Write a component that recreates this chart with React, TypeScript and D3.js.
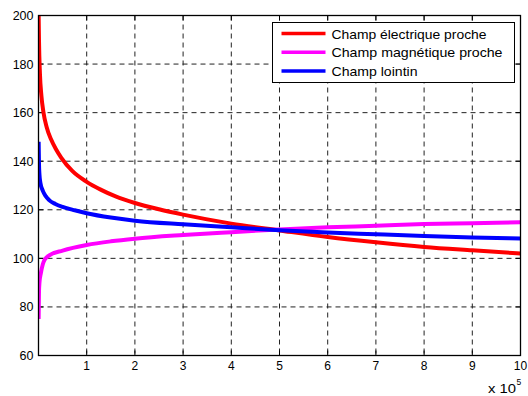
import React, { useRef, useEffect } from 'react';
import * as d3 from 'd3';

// x values are in units of 10^5
const redX = [0.003, 0.01, 0.03, 0.06, 0.1, 0.17, 0.26, 0.36, 0.47, 0.7, 1, 1.3, 1.6, 2, 2.5, 3, 4, 5, 6, 7, 8, 9, 10];
const redY = [200, 190, 176, 167, 160.5, 154, 149, 145, 141.5, 136, 131.5, 128.2, 125.5, 122.8, 120.2, 118, 114.3, 111.5, 108.8, 106.6, 104.7, 103.3, 102];

const magX = [0.003, 0.01, 0.02, 0.05, 0.13, 0.25, 0.5, 1, 1.5, 2, 3, 4, 5, 6, 7, 8, 9, 10];
const magY = [75, 86, 90, 94, 99.5, 101.5, 103.2, 105.5, 107, 108.1, 109.6, 110.8, 111.9, 112.8, 113.4, 114.1, 114.5, 114.9];

const blueX = [0.003, 0.01, 0.02, 0.04, 0.09, 0.15, 0.22, 0.35, 0.5, 0.75, 1, 1.5, 2, 3, 4, 5, 6, 7, 8, 9, 10];
const blueY = [148, 139, 134.5, 131, 127.8, 125.6, 124, 122.4, 121.2, 119.8, 118.6, 116.8, 115.5, 114, 112.8, 111.6, 110.6, 109.9, 109.2, 108.6, 108.2];

const xTicks = [1, 2, 3, 4, 5, 6, 7, 8, 9, 10];
const yTicks = [60, 80, 100, 120, 140, 160, 180, 200];

const series = [
    { name: "Champ électrique proche", color: "#ff0000", xs: redX, ys: redY, len: 155 },
    { name: "Champ magnétique proche", color: "#ff00ff", xs: magX, ys: magY, len: 171 },
    { name: "Champ lointin", color: "#0000ff", xs: blueX, ys: blueY, len: 86 },
];

const FONT = "Liberation Sans, Arial, sans-serif";

function App() {
    const ref = useRef<SVGSVGElement>(null);

    useEffect(() => {
        const margin = { top: 15.5, right: 7.5, bottom: 40.5, left: 38.5 };
        const width = 528 - margin.left - margin.right;
        const height = 396 - margin.top - margin.bottom;

        const root = d3.select(ref.current);
        root.selectAll("*").remove();
        const svg = root.append("g")
            .attr("transform", "translate(" + margin.left + "," + margin.top + ")");

        const x = d3.scaleLinear().domain([0, 10]).range([0, width]);
        const y = d3.scaleLinear().domain([60, 200]).range([height, 0]);

        // grid
        svg.selectAll(".gx")
            .data(xTicks.filter(t => t < 10))
            .enter().append("line")
            .attr("x1", d => x(d)).attr("x2", d => x(d))
            .attr("y1", 0).attr("y2", height)
            .attr("stroke", "#222")
            .attr("stroke-dasharray", "5,4");
        svg.selectAll(".gy")
            .data(yTicks.filter(t => t > 60 && t < 200))
            .enter().append("line")
            .attr("x1", 0).attr("x2", width)
            .attr("y1", d => y(d)).attr("y2", d => y(d))
            .attr("stroke", "#222")
            .attr("stroke-dasharray", "5,4");

        // inward ticks on all four sides
        const tl = 5;
        xTicks.forEach(t => {
            svg.append("line").attr("x1", x(t)).attr("x2", x(t)).attr("y1", height).attr("y2", height - tl).attr("stroke", "#000");
            svg.append("line").attr("x1", x(t)).attr("x2", x(t)).attr("y1", 0).attr("y2", tl).attr("stroke", "#000");
        });
        yTicks.forEach(t => {
            svg.append("line").attr("x1", 0).attr("x2", tl).attr("y1", y(t)).attr("y2", y(t)).attr("stroke", "#000");
            svg.append("line").attr("x1", width).attr("x2", width - tl).attr("y1", y(t)).attr("y2", y(t)).attr("stroke", "#000");
        });

        // curves
        const line = d3.line<[number, number]>()
            .x(d => x(d[0]))
            .y(d => y(d[1]))
            .curve(d3.curveMonotoneX);

        svg.append("clipPath").attr("id", "plotclip")
            .append("rect").attr("x", 0).attr("y", 0).attr("width", width).attr("height", height);

        series.forEach(s => {
            const pts = s.xs.map((v, i) => [v, s.ys[i]] as [number, number]);
            svg.append("path")
                .attr("d", line(pts))
                .attr("fill", "none")
                .attr("stroke", s.color)
                .attr("stroke-width", 4)
                .attr("clip-path", "url(#plotclip)");
        });

        // box
        svg.append("rect")
            .attr("x", 0).attr("y", 0)
            .attr("width", width).attr("height", height)
            .attr("fill", "none")
            .attr("stroke", "#000")
            .attr("stroke-width", 1.3);

        // tick labels
        svg.selectAll(".xl")
            .data(xTicks)
            .enter().append("text")
            .attr("x", d => x(d))
            .attr("y", height + 14)
            .attr("text-anchor", "middle")
            .style("font-family", FONT)
            .style("font-size", "12px")
            .text(d => d);
        svg.selectAll(".yl")
            .data(yTicks)
            .enter().append("text")
            .attr("x", -5)
            .attr("y", d => y(d) + 4.5)
            .attr("text-anchor", "end")
            .style("font-family", FONT)
            .style("font-size", "12.5px")
            .text(d => d);

        // exponent label
        svg.append("text")
            .attr("x", 488 - margin.left)
            .attr("y", 392.5 - margin.top)
            .attr("textLength", 28)
            .attr("lengthAdjust", "spacingAndGlyphs")
            .style("font-family", FONT)
            .style("font-size", "12px")
            .text("x 10");
        svg.append("text")
            .attr("x", 516.5 - margin.left)
            .attr("y", 385 - margin.top)
            .style("font-family", FONT)
            .style("font-size", "8.5px")
            .text("5");

        // legend
        const lg = svg.append("g").attr("transform", "translate(" + (272.5 - margin.left) + "," + (22.5 - margin.top) + ")");
        lg.append("rect")
            .attr("width", 242).attr("height", 60)
            .attr("fill", "#fff")
            .attr("stroke", "#000");
        series.forEach((s, i) => {
            const ly = 11 + i * 18.7;
            lg.append("line")
                .attr("x1", 9).attr("x2", 53)
                .attr("y1", ly).attr("y2", ly)
                .attr("stroke", s.color)
                .attr("stroke-width", 3.5);
            lg.append("text")
                .attr("x", 59)
                .attr("y", ly + 5)
                .attr("textLength", s.len)
                .attr("lengthAdjust", "spacingAndGlyphs")
                .style("font-family", FONT)
                .style("font-size", "13px")
                .text(s.name);
        });
    }, []);

    return (
        <svg ref={ref} width="528" height="396" style={{ position: "absolute", left: 0, top: 0, background: "#fff" }} />
    );
}

export default App;
